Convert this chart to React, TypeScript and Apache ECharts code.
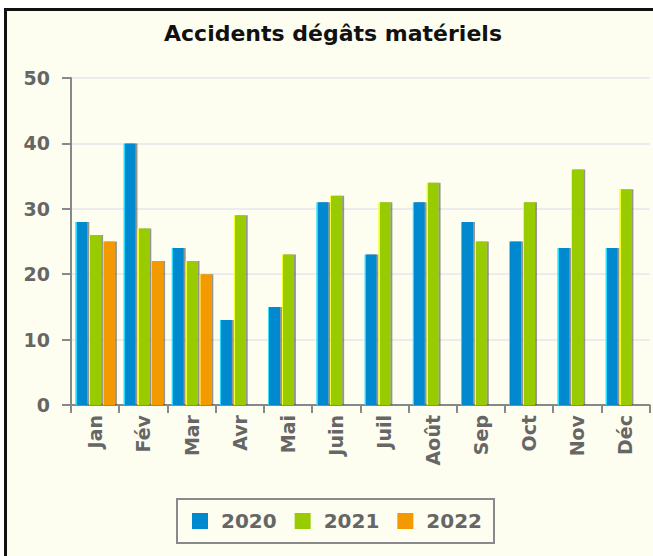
import React, { useEffect, useRef } from "react";
import * as echarts from "echarts";

const categories = ["Jan", "Fév", "Mar", "Avr", "Mai", "Juin", "Juil", "Août", "Sep", "Oct", "Nov", "Déc"];
const seriesNames = ["2020", "2021", "2022"];
const values2020 = [28, 40, 24, 13, 15, 31, 23, 31, 28, 25, 24, 24];
const values2021 = [26, 27, 22, 29, 23, 32, 31, 34, 25, 31, 36, 33];
const values2022: (number | null)[] = [25, 22, 20, null, null, null, null, null, null, null, null, null];
const yTicks = { min: 0, max: 50, interval: 10 };

const mainColors = ["#0089cf", "#99cc00", "#f29a00"];
const edgeColors = ["#22ddff", "#f4ff20", "#ffcc33"];

const FONT = "DejaVu Sans";

function barFill(i: number) {
  return new echarts.graphic.LinearGradient(0, 0, 1, 0, [
    { offset: 0, color: edgeColors[i] },
    { offset: 0.1, color: edgeColors[i] },
    { offset: 0.1, color: mainColors[i] },
    { offset: 1, color: mainColors[i] },
  ]);
}

export default function App() {
  const ref = useRef<HTMLDivElement>(null);
  useEffect(() => {
    if (!ref.current) return;
    const chart = echarts.init(ref.current, undefined, { renderer: "svg" });
    const data = [values2020, values2021, values2022];
    chart.setOption({
      animation: false,
      backgroundColor: "transparent",
      title: {
        text: "Accidents dégâts matériels",
        left: "center",
        top: 17,
        textStyle: { fontFamily: FONT, fontWeight: "bold", fontSize: 22, color: "#111" },
      },
      legend: {
        data: seriesNames.map((n, i) => ({
          name: n,
          itemStyle: { color: mainColors[i], shadowBlur: 0, shadowOffsetX: 0, shadowColor: "transparent" },
        })),
        left: 177,
        top: 499,
        icon: "rect",
        itemWidth: 16,
        itemHeight: 16,
        itemGap: 18,
        padding: [12, 12, 12, 15],
        borderColor: "#8a8a8a",
        borderWidth: 2,
        textStyle: { fontFamily: FONT, fontWeight: "bold", fontSize: 20, color: "#666", padding: [0, 0, 0, 8] },
      },
      grid: { left: 71, right: 16.5, top: 78, bottom: 151, containLabel: false, outerBoundsMode: "none" },
      xAxis: {
        type: "category",
        data: categories,
        axisLine: { show: true, lineStyle: { color: "#888", width: 2 } },
        axisTick: { show: true, length: 8, lineStyle: { color: "#888", width: 2 } },
        axisLabel: {
          rotate: 90,
          margin: 10,
          fontFamily: FONT,
          fontWeight: "bold",
          fontSize: 19,
          color: "#666",
          interval: 0,
        },
      },
      yAxis: {
        type: "value",
        min: yTicks.min,
        max: yTicks.max,
        interval: yTicks.interval,
        axisLine: { show: true, lineStyle: { color: "#888", width: 2 } },
        axisTick: { show: true, length: 9, lineStyle: { color: "#888", width: 2 } },
        axisLabel: { margin: 21, fontFamily: FONT, fontWeight: "bold", fontSize: 19, color: "#666" },
        splitLine: { show: true, lineStyle: { color: "#e6e6ee", width: 1.5 } },
      },
      series: seriesNames.map((n, i) => ({
        name: n,
        type: "bar",
        data: data[i],
        barWidth: 12,
        barGap: "15%",
        itemStyle: {
          color: barFill(i),
          shadowColor: "rgba(60,60,60,0.55)",
          shadowOffsetX: 2,
          shadowOffsetY: 0,
          shadowBlur: 1,
        },
      })),
    });
    return () => chart.dispose();
  }, []);

  return (
    <div style={{ position: "fixed", left: 0, top: 0, width: 653, height: 556, overflow: "hidden", background: "#fff" }}>
      <div
        style={{
          position: "absolute",
          left: 4,
          top: 8,
          width: 720,
          height: 620,
          border: "3px solid #111",
          background: "#fefef0",
        }}
      />
      <div ref={ref} style={{ position: "absolute", left: 0, top: 0, width: 666, height: 556 }} />
    </div>
  );
}
